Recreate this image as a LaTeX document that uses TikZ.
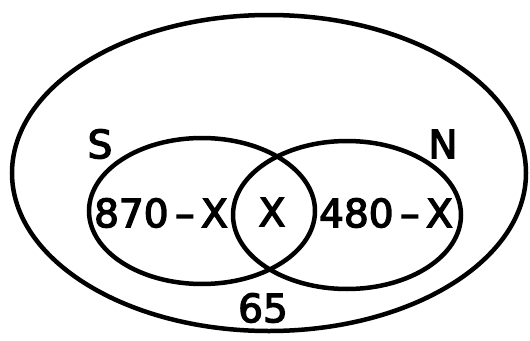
\documentclass[tikz,border=0pt]{standalone}
\usepackage{fontspec}
\setmainfont{DejaVu Sans}
\newfontfamily\lblfont[FakeBold=3.5]{DejaVu Sans}
\usepackage{tikz}
\usetikzlibrary{positioning}

\begin{document}
\begin{tikzpicture}[
    x=1pt, y=-1pt,
    set/.style={line width=4.5pt},
    lbl/.style={inner sep=0pt, font=\lblfont\fontsize{39}{42}\selectfont}]
    \useasboundingbox (0,0) rectangle (530,340);
    % universe and the two sets
    \draw[set] (269,173) ellipse [x radius=257pt, y radius=158pt];
    \draw[set] (202,211) ellipse [x radius=113pt, y radius=73pt];
    \draw[set] (347,215) ellipse [x radius=114pt, y radius=74pt];
    \node[lbl] (sname) at (100,144) {S};
    \node[lbl] (nname) at (443,144) {N};
    \node[lbl] (sonly) at (161,213) {870\,\textendash\,X};
    \node[lbl] (both) at (272,212) {X};
    \node[lbl] (nonly) at (386,213) {480\,\textendash\,X};
    \node[lbl] (none) at (263,308) {65};
\end{tikzpicture}
\end{document}
